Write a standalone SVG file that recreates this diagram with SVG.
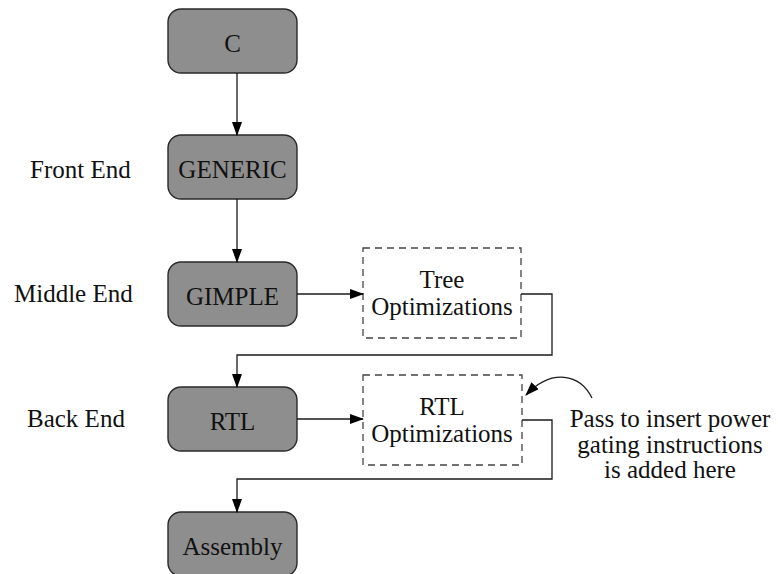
<svg xmlns="http://www.w3.org/2000/svg" width="778" height="574" viewBox="0 0 778 574">
<style>
text{font-family:"Liberation Serif","Times New Roman",serif;font-size:25px;fill:#111}
.node{fill:#8e8e8e;stroke:#2a2a2a;stroke-width:1.4}
.dash{fill:none;stroke:#444;stroke-width:1.3;stroke-dasharray:7 5}
.c{text-anchor:middle}
.conn{fill:none;stroke:#1a1a1a;stroke-width:1.3}
</style>
<defs>
<marker id="ah" markerWidth="14" markerHeight="10" refX="13" refY="5" orient="auto" markerUnits="userSpaceOnUse">
<path d="M0,0 L14,5 L0,10 z" fill="#000"/>
</marker>
</defs>
<rect width="778" height="574" fill="#fff"/>
<g id="labels">
<text x="30" y="178">Front End</text>
<text x="14" y="302">Middle End</text>
<text x="27" y="427">Back End</text>
</g>
<g id="node-c"><rect class="node" x="168" y="9" width="129" height="64" rx="13"/><text class="c" x="232.5" y="52">C</text></g>
<g id="node-generic"><rect class="node" x="168" y="135" width="129" height="64" rx="13"/><text class="c" x="232.5" y="178">GENERIC</text></g>
<g id="node-gimple"><rect class="node" x="168" y="262" width="129" height="64" rx="13"/><text class="c" x="232.5" y="305">GIMPLE</text></g>
<g id="node-rtl"><rect class="node" x="168" y="387" width="129" height="64" rx="13"/><text class="c" x="232.5" y="430">RTL</text></g>
<g id="node-assembly"><rect class="node" x="168" y="512" width="129" height="64" rx="13"/><text class="c" x="232.5" y="555">Assembly</text></g>
<g id="node-tree"><rect class="dash" x="363" y="248" width="158" height="90"/><text class="c" x="442" y="288">Tree</text><text class="c" x="442" y="315">Optimizations</text></g>
<g id="node-rtlopt"><rect class="dash" x="363" y="375" width="159" height="90"/><text class="c" x="442" y="415">RTL</text><text class="c" x="442" y="442">Optimizations</text></g>
<g id="note"><text class="c" x="670" y="427">Pass to insert power</text><text class="c" x="670" y="453">gating instructions</text><text class="c" x="670" y="478">is added here</text></g>
<g id="connectors">
<path class="conn" d="M237,73 V135" marker-end="url(#ah)"/>
<path class="conn" d="M237,199 V262" marker-end="url(#ah)"/>
<path class="conn" d="M297,294 H363" marker-end="url(#ah)"/>
<path class="conn" d="M521,294 H552 V355 H237 V387" marker-end="url(#ah)"/>
<path class="conn" d="M297,419 H363" marker-end="url(#ah)"/>
<path class="conn" d="M522,420 H552 V479 H237 V512" marker-end="url(#ah)"/>
<path class="conn" d="M592,398 C580,374 552,368 526,395" marker-end="url(#ah)"/>
</g>
</svg>
